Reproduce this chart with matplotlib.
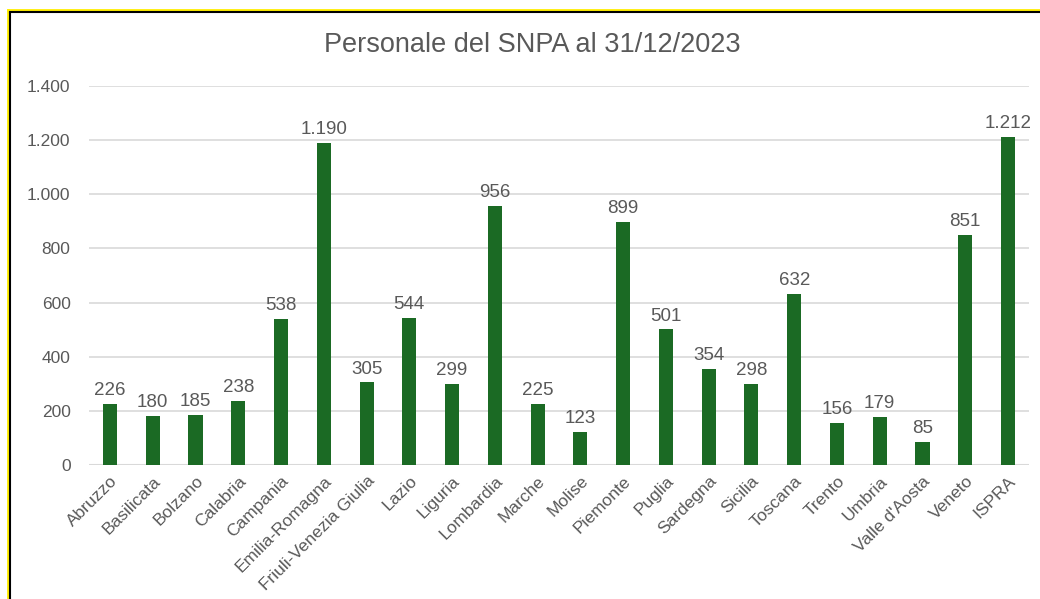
import matplotlib
matplotlib.use('Agg')

import matplotlib.pyplot as plt
from matplotlib.lines import Line2D

regioni = ['Abruzzo', 'Basilicata', 'Bolzano', 'Calabria', 'Campania', 'Emilia-Romagna',
           'Friuli-Venezia Giulia', 'Lazio', 'Liguria', 'Lombardia', 'Marche', 'Molise',
           'Piemonte', 'Puglia', 'Sardegna', 'Sicilia', 'Toscana', 'Trento', 'Umbria',
           "Valle d'Aosta", 'Veneto', 'ISPRA']
personale = [226, 180, 185, 238, 538, 1190, 305, 544, 299, 956, 225, 123, 899, 501,
             354, 298, 632, 156, 179, 85, 851, 1212]
yticks = [0, 200, 400, 600, 800, 1000, 1200, 1400]


def fmt(v):
    return '{:,}'.format(v).replace(',', '.')


plt.rcParams['font.family'] = ['Liberation Sans', 'DejaVu Sans']
grey = '#595959'

fig = plt.figure(figsize=(10.4, 5.99), dpi=100)
ax = fig.add_axes([88.6 / 1040, 0.2237, 940.8 / 1040, 0.6327])

x = range(len(regioni))
ax.bar(x, personale, width=0.33, color='#1b6a24', zorder=3)
for xi, v in zip(x, personale):
    ax.text(xi, v + 18, fmt(v), ha='center', va='bottom', fontsize=13.5, color=grey)

ax.set_xlim(-0.5, len(regioni) - 0.5)
ax.set_ylim(0, 1400)
ax.set_yticks(yticks)
ax.set_yticklabels([fmt(v) for v in yticks], fontsize=12.5, color=grey)
ax.set_xticks(list(x))
ax.set_xticklabels(regioni, rotation=45, ha='right', rotation_mode='anchor',
                   fontsize=12.5, color=grey)
ax.tick_params(axis='both', length=0)
ax.tick_params(axis='y', pad=13)
ax.tick_params(axis='x', pad=6)
ax.grid(axis='y', color='#d9d9d9', linewidth=1.2, zorder=0)
for s in ax.spines.values():
    s.set_visible(False)
ax.axhline(0, color='#d9d9d9', linewidth=1.5, zorder=2)

fig.text(532 / 1040, 1 - 45 / 599, 'Personale del SNPA al 31/12/2023', ha='center', va='center',
         fontsize=19.5, color=grey)

# cornice gialla/nera in alto e a sinistra
fig.add_artist(Line2D([8 / 1040, 8 / 1040], [0, 1 - 10 / 599], transform=fig.transFigure,
                      color='#ffee00', linewidth=2))
fig.add_artist(Line2D([10 / 1040, 10 / 1040], [0, 1 - 12 / 599], transform=fig.transFigure,
                      color='black', linewidth=1.5))
fig.add_artist(Line2D([8 / 1040, 1], [1 - 10 / 599, 1 - 10 / 599], transform=fig.transFigure,
                      color='#ffee00', linewidth=2))
fig.add_artist(Line2D([10 / 1040, 1], [1 - 12 / 599, 1 - 12 / 599], transform=fig.transFigure,
                      color='black', linewidth=1.5))

fig.savefig('out.png', dpi=100)
